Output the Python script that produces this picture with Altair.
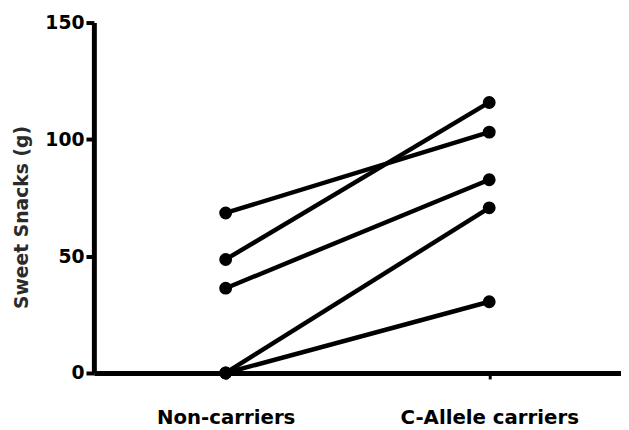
import altair as alt
import pandas as pd

categories = ["Non-carriers", "C-Allele carriers"]
subjects = ["S1", "S2", "S3", "S4", "S5"]
non_carriers = [68.5, 48.6, 36.3, 0, 0]
c_allele_carriers = [103.1, 115.8, 82.7, 70.7, 30.5]
y_ticks = [0, 50, 100, 150]

rows = []
for s, a, b in zip(subjects, non_carriers, c_allele_carriers):
    rows.append({"subject": s, "pos": 0, "group": categories[0], "value": a})
    rows.append({"subject": s, "pos": 1, "group": categories[1], "value": b})
df = pd.DataFrame(rows)

FONT = "DejaVu Sans"

x_enc = alt.X(
    "pos:Q",
    scale=alt.Scale(domain=[-0.5, 1.5], nice=False, zero=False),
    axis=alt.Axis(
        values=[0, 1],
        labelExpr="datum.value == 0 ? '" + categories[0] + "' : '" + categories[1] + "'",
        title=None,
        grid=False,
        domainColor="black",
        domainWidth=5,
        tickColor="black",
        tickWidth=3,
        tickSize=6,
        labelPadding=29,
        labelLimit=0,
        labelFont=FONT,
        labelFontSize=20,
        labelFontWeight="bold",
        labelColor="black",
    ),
)
y_enc = alt.Y(
    "value:Q",
    scale=alt.Scale(domain=[0, 150], nice=False),
    axis=alt.Axis(
        values=y_ticks,
        title="Sweet Snacks (g)",
        grid=False,
        domainColor="black",
        domainWidth=5,
        tickColor="black",
        tickWidth=4,
        tickSize=8,
        labelPadding=2,
        labelFont=FONT,
        labelFontSize=19,
        labelFontWeight="bold",
        labelColor="black",
        titleFont=FONT,
        titleFontSize=19,
        titleFontWeight="bold",
        titleColor="#2b2b2b",
        titleX=-73,
        titleY=197,
        titleBaseline="middle",
        titleAlign="center",
        titleAngle=270,
    ),
)

base = alt.Chart(df).encode(x=x_enc, y=y_enc, detail="subject:N")
lines = base.mark_line(color="black", strokeWidth=4.5)
points = base.mark_point(filled=True, color="black", size=170, opacity=1)

chart = (
    alt.layer(lines, points)
    .properties(
        width=534,
        height=355,
        autosize=alt.AutoSizeParams(type="none"),
        padding={"left": 87, "top": 12, "right": 0, "bottom": 55},
    )
    .configure_view(stroke=None)
)

chart.save("out.html", embed_options={"renderer": "svg", "actions": False})
